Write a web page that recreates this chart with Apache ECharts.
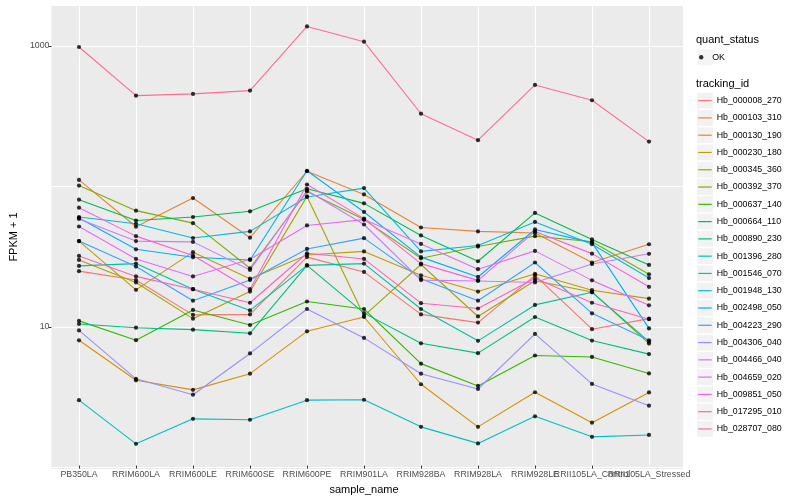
<!DOCTYPE html>
<html><head><meta charset="utf-8">
<script src="https://cdn.jsdelivr.net/npm/echarts@6/dist/echarts.min.js"></script>
<style>html,body{margin:0;padding:0;background:#fff}#c{width:800px;height:500px}</style>
</head><body><div id="c"></div>
<script>
const categories = ['PB350LA','RRIM600LA','RRIM600LE','RRIM600SE','RRIM600PE','RRIM901LA','RRIM928BA','RRIM928LA','RRIM928LE','RRII105LA_Control','RRII105LA_Stressed'];
const trackingIds = ['Hb_000008_270','Hb_000103_310','Hb_000130_190','Hb_000230_180','Hb_000345_360','Hb_000392_370','Hb_000637_140','Hb_000664_110','Hb_000890_230','Hb_001396_280','Hb_001546_070','Hb_001948_130','Hb_002498_050','Hb_004223_290','Hb_004306_040','Hb_004466_040','Hb_004659_020','Hb_009851_050','Hb_017295_010','Hb_028707_080'];
const palette = ['#F8766D','#EA8331','#D89000','#C09B00','#A3A500','#7CAE00','#39B600','#00BB4E','#00BF7D','#00C1A3','#00BFC4','#00BAE0','#00B0F6','#35A2FF','#9590FF','#C77CFF','#E76BF3','#FA62DB','#FF62BC','#FF6C91'];
const yTickLabels = [10, 1000];

const Hb_000008_270 = [24.1, 20.8, 11.7, 11.8, 30.4, 23.8, 11.8, 10.3, 22.5, 9.24, 11.0];
const Hb_000103_310 = [108.9, 50.2, 80.7, 41.9, 125.6, 85.6, 49.6, 46.5, 45.3, 27.8, 37.6];
const Hb_000130_190 = [7.69, 3.97, 3.39, 4.43, 8.92, 11.3, 3.72, 1.84, 3.26, 1.97, 3.25];
const Hb_000230_180 = [39.6, 17.7, 33.0, 21.3, 31.5, 33.4, 22.5, 17.2, 23.1, 17.6, 15.3];
const Hb_000345_360 = [29.0, 20.0, 11.0, 17.2, 82.9, 11.5, 26.9, 11.4, 20.6, 17.1, 7.29];
const Hb_000392_370 = [99.2, 65.5, 53.3, 25.3, 89.9, 56.5, 29.8, 36.2, 43.0, 39.2, 22.9];
const Hb_000637_140 = [10.6, 7.7, 12.7, 9.9, 14.6, 12.9, 5.23, 3.62, 5.98, 5.84, 4.45];
const Hb_000664_110 = [78.5, 55.6, 59.0, 64.8, 94.0, 73.9, 43.5, 28.4, 63.1, 40.7, 26.7];
const Hb_000890_230 = [10.07, 9.47, 9.17, 8.63, 26.5, 12.05, 7.32, 6.22, 11.3, 7.66, 6.12];
const Hb_001396_280 = [26.3, 27.3, 17.9, 12.6, 26.5, 27.3, 12.9, 7.62, 13.8, 17.0, 7.53];
const Hb_001546_070 = [2.86, 1.39, 2.10, 2.07, 2.86, 2.88, 1.84, 1.40, 2.19, 1.56, 1.61];
const Hb_001948_130 = [59.0, 52.7, 41.7, 46.5, 82.1, 95.1, 33.4, 36.8, 54.4, 37.6, 21.5];
const Hb_002498_050 = [58.1, 34.6, 30.3, 29.0, 126.7, 64.1, 30.4, 21.9, 48.0, 38.6, 9.36];
const Hb_004223_290 = [39.6, 26.0, 14.8, 20.8, 34.8, 41.6, 21.3, 14.8, 27.8, 12.0, 7.69];
const Hb_004306_040 = [9.06, 4.07, 3.13, 6.19, 12.9, 8.0, 4.43, 3.44, 8.55, 3.74, 2.61];
const Hb_004466_040 = [57.1, 39.6, 39.1, 24.6, 91.4, 52.1, 20.8, 20.5, 20.0, 27.1, 32.1];
const Hb_004659_020 = [50.4, 29.5, 22.1, 29.3, 51.3, 56.5, 37.8, 24.9, 33.7, 20.7, 13.7];
const Hb_009851_050 = [68.8, 43.0, 31.2, 17.9, 100.9, 57.4, 27.3, 20.7, 46.5, 32.2, 18.6];
const Hb_017295_010 = [31.0, 22.1, 17.9, 14.3, 32.4, 29.5, 14.2, 13.0, 21.4, 14.3, 10.9];
const Hb_028707_080 = [979, 438, 451, 476, 1374, 1068, 325, 210, 523, 406, 205];

const seriesValues = [Hb_000008_270, Hb_000103_310, Hb_000130_190, Hb_000230_180, Hb_000345_360, Hb_000392_370, Hb_000637_140, Hb_000664_110, Hb_000890_230, Hb_001396_280, Hb_001546_070, Hb_001948_130, Hb_002498_050, Hb_004223_290, Hb_004306_040, Hb_004466_040, Hb_004659_020, Hb_009851_050, Hb_017295_010, Hb_028707_080];

const FONT = 'Liberation Sans, Arial, sans-serif';
const Y_MIN = 0.97, Y_MAX = 1959;
const LAST = categories.length - 1;

const lineSeries = trackingIds.map((id, k) => ({
  name: id, type: 'line', xAxisIndex: 1, yAxisIndex: 1,
  data: seriesValues[k].map((v, i) => [i, v]),
  showSymbol: false, symbol: 'none', silent: true, animation: false,
  lineStyle: {color: palette[k], width: 1.1},
  itemStyle: {color: palette[k]}, z: 2
}));
const pointData = [];
seriesValues.forEach(arr => arr.forEach((v, i) => pointData.push([i, v])));
const pointSeries = {
  name: 'OK', type: 'scatter', xAxisIndex: 1, yAxisIndex: 1, data: pointData,
  symbol: 'circle', symbolSize: 4.2, itemStyle: {color: '#000'}, silent: true, animation: false, z: 3
};

const xLabelBase = {margin: 4.5, fontSize: 8.8, color: '#4D4D4D', fontFamily: FONT, hideOverlap: false};
const bgKey = {color: '#F2F2F2', borderWidth: 0};
const chart = echarts.init(document.getElementById('c'), null, {renderer: 'canvas'});
chart.setOption({
  animation: false,
  backgroundColor: '#fff',
  textStyle: {fontFamily: FONT},
  grid: [
    {left: 45, right: 117, top: 5, bottom: 31, show: true, backgroundColor: '#EBEBEB', borderWidth: 0},
    {left: 79, right: 151, top: 5, bottom: 31, show: false}
  ],
  xAxis: [
    {gridIndex: 0, type: 'value', min: 0, max: 1, show: false},
    {gridIndex: 1, type: 'value', position: 'bottom', min: 0, max: LAST, interval: 1,
     axisLine: {show: false},
     axisTick: {show: true, length: 3, lineStyle: {color: '#333', width: 1}},
     axisLabel: Object.assign({showMinLabel: true, showMaxLabel: false,
                 formatter: v => categories[v] || ''}, xLabelBase),
     splitLine: {show: true, lineStyle: {color: '#fff', width: 1.1}},
     name: 'sample_name', nameLocation: 'middle', nameGap: 14.5,
     nameTextStyle: {fontSize: 11, color: '#000', fontFamily: FONT}},
    {gridIndex: 1, type: 'value', position: 'bottom', min: 0, max: LAST, interval: 1,
     axisLine: {show: false}, axisTick: {show: false}, splitLine: {show: false},
     axisLabel: Object.assign({showMinLabel: false, showMaxLabel: true,
                 formatter: v => (v === LAST ? categories[v] : '')}, xLabelBase)}
  ],
  yAxis: [
    {gridIndex: 0, type: 'log', logBase: 10, min: Y_MIN, max: Y_MAX, position: 'left',
     axisLine: {show: false}, axisTick: {show: false}, axisLabel: {show: false},
     splitLine: {show: true, lineStyle: {color: '#fff', width: 1.1}}},
    {gridIndex: 1, type: 'log', logBase: 10, min: Y_MIN, max: Y_MAX, show: false, splitLine: {show: false}},
    {gridIndex: 0, type: 'log', logBase: 10, min: Y_MIN, max: Y_MAX, position: 'left',
     axisLine: {show: false}, splitLine: {show: false},
     axisTick: {show: true, length: 3, lineStyle: {color: '#333', width: 1}, customValues: yTickLabels},
     axisLabel: {margin: 2, fontSize: 8.8, color: '#4D4D4D', fontFamily: FONT, customValues: yTickLabels,
                 formatter: v => String(Math.round(v))},
     name: 'FPKM + 1', nameLocation: 'middle', nameGap: 26,
     nameTextStyle: {fontSize: 11, color: '#000', fontFamily: FONT}}
  ],
  title: [
    {text: 'quant_status', left: 696, top: 33.5, padding: 0,
     textStyle: {fontSize: 11, fontWeight: 'normal', color: '#000', fontFamily: FONT, lineHeight: 13}},
    {text: 'tracking_id', left: 696, top: 77.5, padding: 0,
     textStyle: {fontSize: 11, fontWeight: 'normal', color: '#000', fontFamily: FONT, lineHeight: 13}}
  ],
  legend: [
    {orient: 'vertical', left: 697.2, top: 49.4, padding: 0, itemGap: 1.48, selectedMode: false,
     itemWidth: 15.8, itemHeight: 15.8, z: 1,
     data: [{name: 'OK', icon: 'rect', itemStyle: bgKey}],
     textStyle: {color: 'rgba(0,0,0,0)', fontSize: 8.8, lineHeight: 12}},
    {orient: 'vertical', left: 699, top: 57.3 - 6, padding: 0, itemGap: 0, selectedMode: false,
     itemWidth: 12, itemHeight: 4.4, z: 3,
     data: [{name: 'OK', icon: 'circle', itemStyle: {color: '#000'}}],
     textStyle: {color: '#000', fontSize: 8.8, fontFamily: FONT, lineHeight: 12}},
    {orient: 'vertical', left: 697.2, top: 92.74, padding: 0, itemGap: 1.48, selectedMode: false,
     itemWidth: 15.8, itemHeight: 15.8, z: 1,
     data: trackingIds.map(id => ({name: id, icon: 'rect', itemStyle: bgKey})),
     textStyle: {color: 'rgba(0,0,0,0)', fontSize: 8.8, lineHeight: 12}},
    {orient: 'vertical', left: 698.3, top: 92, padding: 0, itemGap: 0, selectedMode: false,
     itemWidth: 13.4, itemHeight: 1.2, z: 3,
     data: trackingIds.map((id, k) => ({name: id, icon: 'rect', itemStyle: {color: palette[k], borderWidth: 0}})),
     textStyle: {color: '#000', fontSize: 8.8, fontFamily: FONT, lineHeight: 17.28}}
  ],
  series: [...lineSeries, pointSeries]
});
</script></body></html>
